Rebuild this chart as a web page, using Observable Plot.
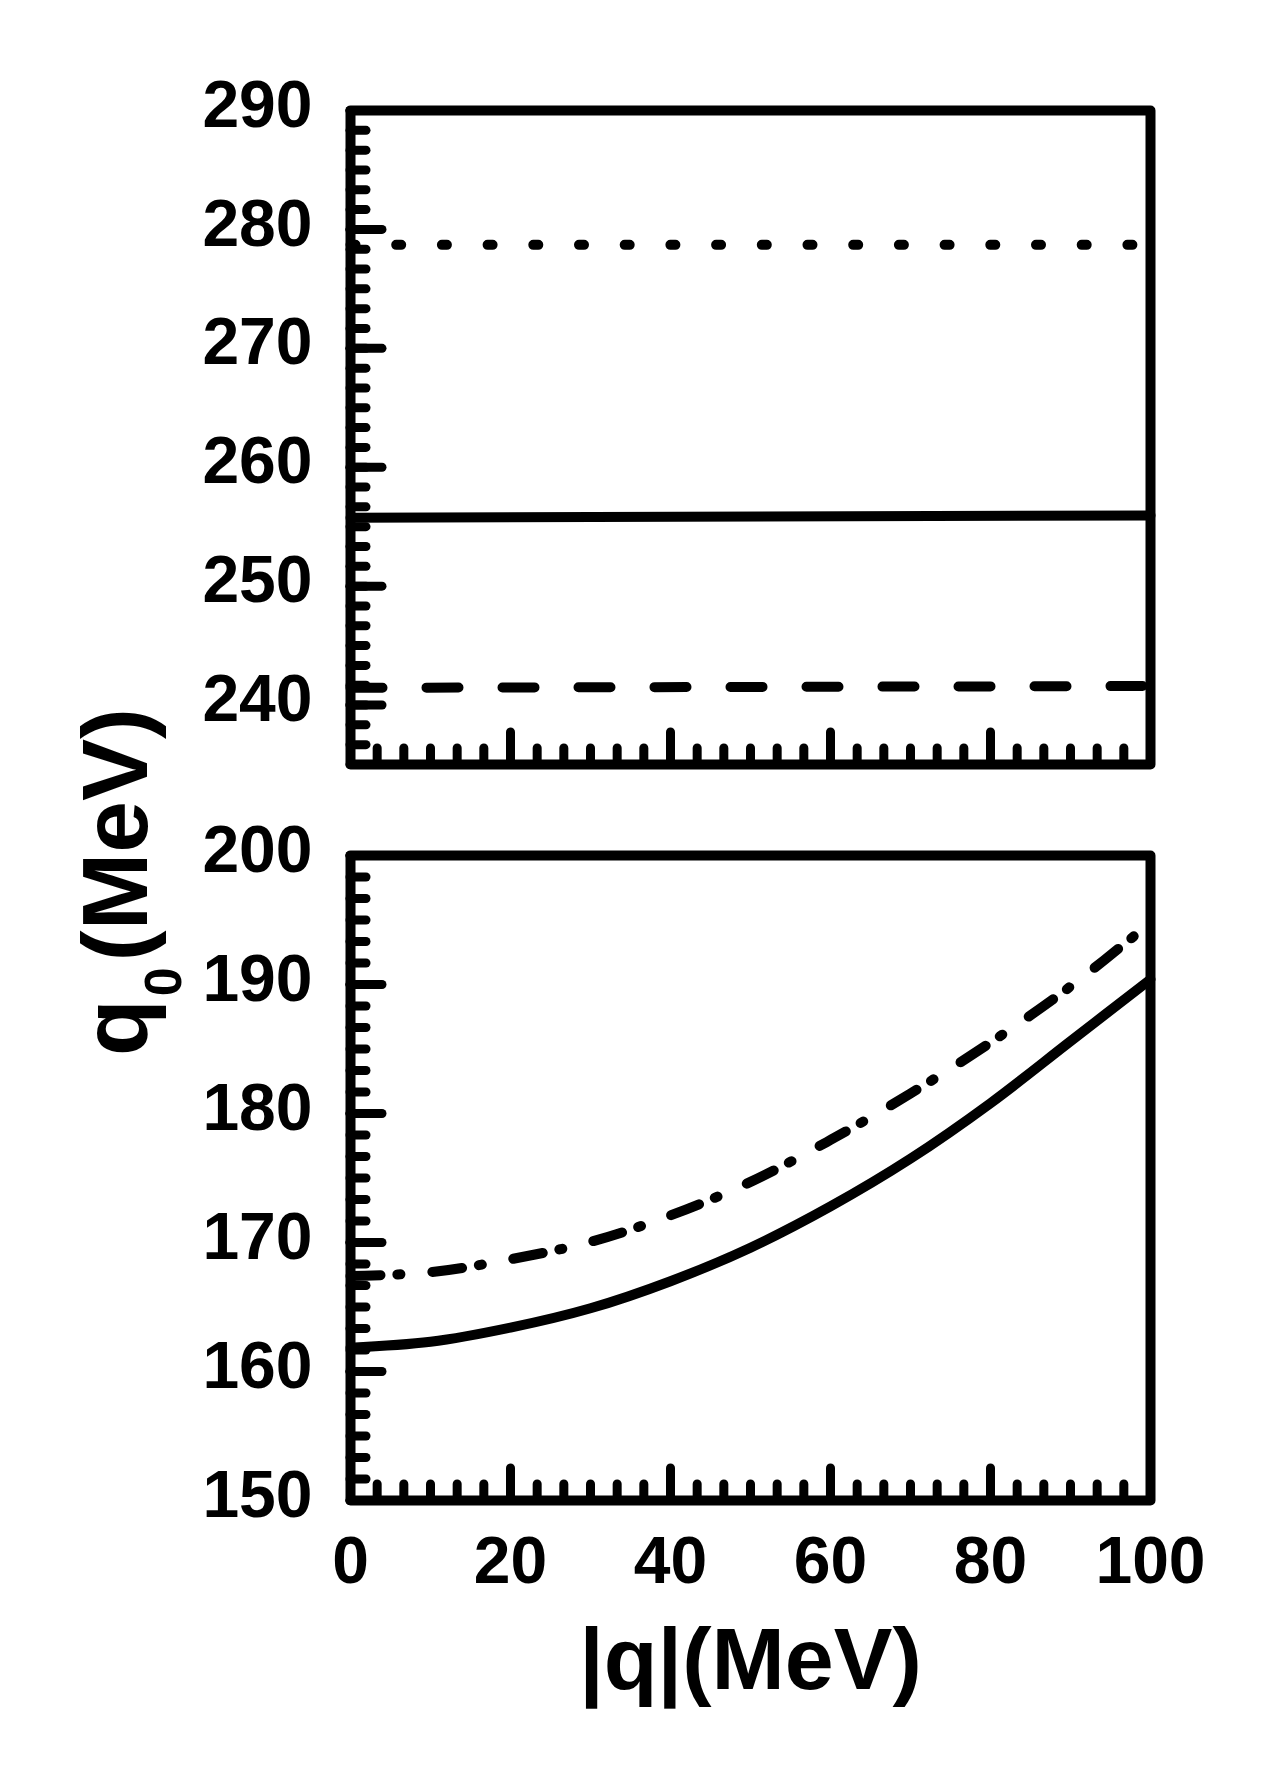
<!DOCTYPE html>
<html>
<head>
<meta charset="utf-8">
<script src="https://cdn.jsdelivr.net/npm/d3@7"></script>
<script src="https://cdn.jsdelivr.net/npm/@observablehq/plot@0.6"></script>
<style>
  html, body { margin: 0; padding: 0; background: #fff; }
  #wrap { position: relative; width: 1273px; height: 1771px; background: #fff; }
  #wrap > svg { display: block; }
</style>
</head>
<body>
<div id="wrap"></div>
<script>
// ---------- data ----------
const qTop = [0, 100];
const dottedTop = [278.7, 278.7];
const solidTop = [255.75, 255.95];
const dashedTop = [241.45, 241.6];

const qBottom = [0, 10, 20, 30, 40, 50, 60, 70, 80, 90, 100];
const solidBottom = [161.85, 162.3, 163.4, 164.9, 167.0, 169.6, 172.8, 176.5, 180.8, 185.6, 190.4];
const dashDotBottom = [167.4, 167.7, 168.7, 170.05, 172.1, 174.7, 177.95, 181.55, 185.5, 189.85, 194.8];

const yTicksTop = [240, 250, 260, 270, 280, 290];
const yTicksBottom = [150, 160, 170, 180, 190, 200];
const xTicks = [0, 20, 40, 60, 80, 100];
const xLabel = "|q|(MeV)";
const yLabelMain = "q";
const yLabelSub = "0";
const yLabelUnit = "(MeV)";

// minor tick positions (5 minor ticks between labelled ticks)
const yMinorTop = d3.range(0, 34).map(k => 235 + k * 5 / 3);
const yMinorBottom = d3.range(0, 31).map(k => 150 + k * 5 / 3);
const xMinor = d3.range(0, 31).map(k => k * 10 / 3);

// ---------- layout ----------
const W = 1273, ML = 350, MR = 123;
const PW = W - ML - MR;
const FONT = "'Liberation Sans', Arial, Helvetica, sans-serif";
const LW = 10;
const minorLen = 16, majorLen = 32;

const rows = (q, v) => q.map((x, i) => ({q: x, v: v[i]}));

function panel({height, marginTop, marginBottom, yDomain, yTicks, yMinor, series, showX}) {
  const PH = height - marginTop - marginBottom;
  const marks = [];
  for (const s of series) {
    marks.push(Plot.line(rows(s.q, s.v), {
      x: "q", y: "v", stroke: "black", strokeWidth: LW,
      strokeLinecap: "round", strokeLinejoin: "round",
      strokeDasharray: s.dash, curve: "catmull-rom"
    }));
  }
  marks.push(
    Plot.tickY(yMinor, {stroke: "black", strokeWidth: LW - 1, strokeLinecap: "round", insetRight: PW - minorLen}),
    Plot.tickY(yTicks, {stroke: "black", strokeWidth: LW - 1, strokeLinecap: "round", insetRight: PW - majorLen}),
    Plot.tickX(xMinor, {stroke: "black", strokeWidth: LW - 1, strokeLinecap: "round", insetTop: PH - minorLen}),
    Plot.tickX(xTicks, {stroke: "black", strokeWidth: LW - 1, strokeLinecap: "round", insetTop: PH - majorLen}),
    Plot.frame({stroke: "black", strokeWidth: LW, strokeLinejoin: "round"}),
    Plot.axisY({ticks: yTicks, tickSize: 0, tickPadding: 38, label: null, fontSize: 66, fontWeight: "bold", dy: -5, fill: "black"})
  );
  if (showX) {
    marks.push(
      Plot.axisX({ticks: xTicks, tickSize: 0, tickPadding: 36, label: null, fontSize: 66, fontWeight: "bold", fill: "black"}),
      Plot.text([xLabel], {frameAnchor: "bottom", dy: 160, fontSize: 88, fontWeight: "bold", fill: "black", text: d => d, lineAnchor: "middle"})
    );
  }
  return Plot.plot({
    width: W, height, marginTop, marginBottom, marginLeft: ML, marginRight: MR,
    x: {domain: [0, 100], axis: null},
    y: {domain: yDomain, axis: null},
    style: {fontFamily: FONT, fontWeight: "bold", fontSize: "66px", color: "black", background: "white", overflow: "visible"},
    marks
  });
}

const topPlot = panel({
  height: 800, marginTop: 110, marginBottom: 36,
  yDomain: [235, 290], yTicks: yTicksTop, yMinor: yMinorTop,
  series: [
    {q: qTop, v: dottedTop, dash: "5 40.7"},
    {q: qTop, v: solidTop, dash: null},
    {q: qTop, v: dashedTop, dash: "32 44"}
  ],
  showX: false
});

const bottomPlot = panel({
  height: 971, marginTop: 55, marginBottom: 271,
  yDomain: [150, 200], yTicks: yTicksBottom, yMinor: yMinorBottom,
  series: [
    {q: qBottom, v: solidBottom, dash: null},
    {q: qBottom, v: dashDotBottom, dash: "30 17 3 32"}
  ],
  showX: true
});

const wrap = document.getElementById("wrap");
wrap.appendChild(topPlot);
wrap.appendChild(bottomPlot);

// shared rotated y-axis title with subscript
const ov = d3.create("svg")
  .attr("width", W).attr("height", 1771)
  .style("position", "absolute").style("left", "0px").style("top", "0px")
  .style("pointer-events", "none").style("overflow", "visible");
const t = ov.append("text")
  .attr("transform", "translate(147,882) rotate(-90)")
  .attr("text-anchor", "middle")
  .attr("font-family", FONT).attr("font-weight", "bold").attr("font-size", 93)
  .attr("fill", "black");
t.append("tspan").text(yLabelMain);
t.append("tspan").attr("font-size", 52).attr("dy", 34).attr("dx", 3).text(yLabelSub);
t.append("tspan").attr("font-size", 93).attr("dy", -34).attr("dx", 6).text(yLabelUnit);
wrap.appendChild(ov.node());
</script>
</body>
</html>
